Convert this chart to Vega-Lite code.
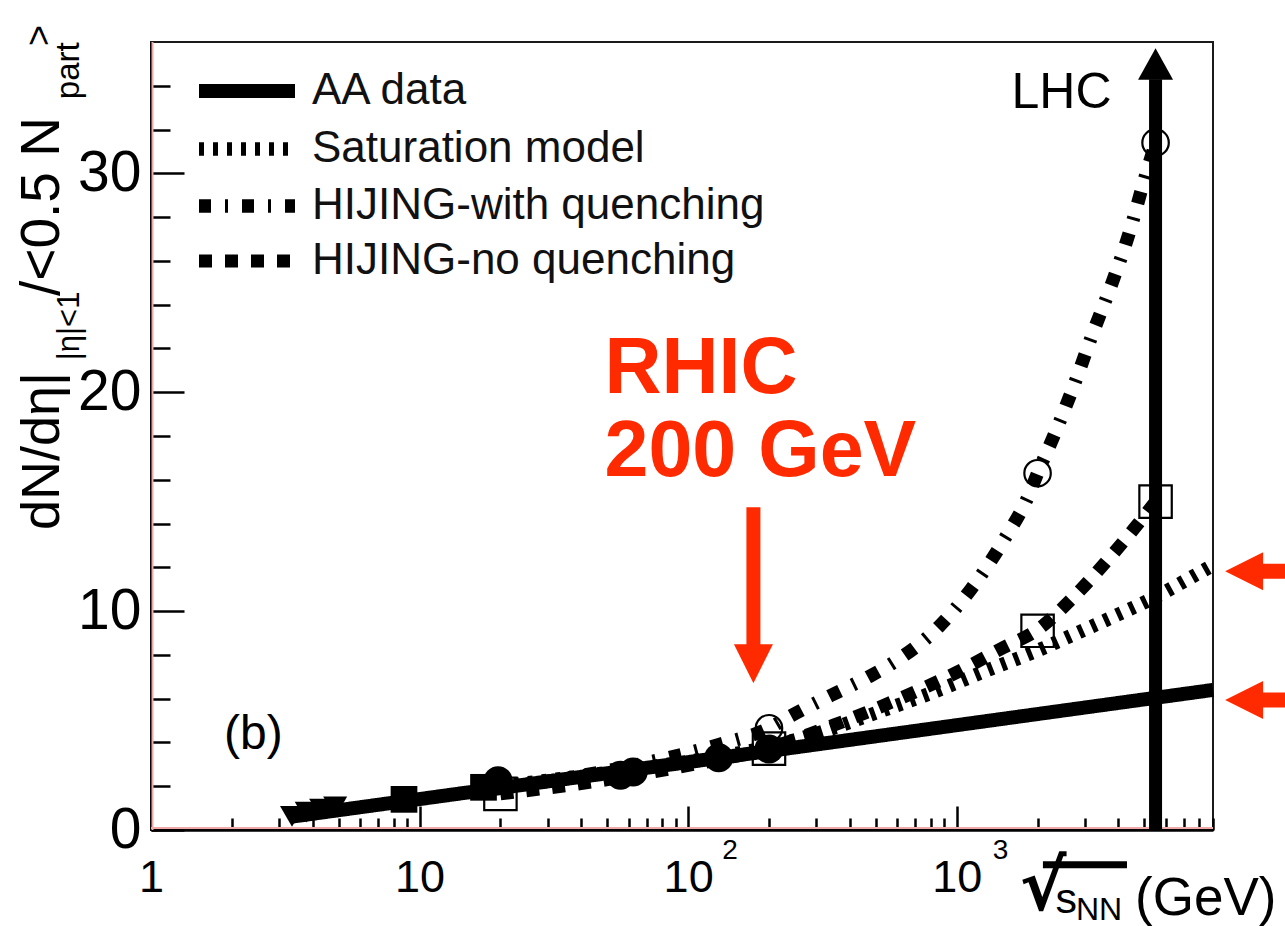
{
  "$schema": "https://vega.github.io/schema/vega-lite/v6.json",
  "width": 1062,
  "height": 788,
  "autosize": {"type": "none"},
  "padding": {"left": 151, "top": 42, "right": 72, "bottom": 96},
  "background": "white",
  "config": {
    "view": {"stroke": "#1a1a1a", "strokeWidth": 2},
    "font": "Liberation Sans",
    "text": {"font": "Liberation Sans", "color": "#000"},
    "axis": {
      "grid": false,
      "domainColor": "#000",
      "domainWidth": 2.5,
      "tickColor": "#000",
      "tickWidth": 2.5,
      "labelColor": "#000",
      "labelFont": "Liberation Sans",
      "title": null,
      "labelOverlap": false,
      "labelFlush": false
    }
  },
  "data": {"values": [{}]},
  "datasets": {
    "curves": [
      {"model": "AA data", "s": 3.3, "v": 0.6},
      {"model": "AA data", "s": 9000, "v": 6.4},
      {"model": "Saturation model", "s": 20, "v": 2.0},
      {"model": "Saturation model", "s": 60, "v": 2.75},
      {"model": "Saturation model", "s": 130, "v": 3.35},
      {"model": "Saturation model", "s": 200, "v": 3.8},
      {"model": "Saturation model", "s": 300, "v": 4.4},
      {"model": "Saturation model", "s": 500, "v": 5.35},
      {"model": "Saturation model", "s": 800, "v": 6.25},
      {"model": "Saturation model", "s": 1300, "v": 7.3},
      {"model": "Saturation model", "s": 2000, "v": 8.2},
      {"model": "Saturation model", "s": 2750, "v": 8.95},
      {"model": "Saturation model", "s": 4000, "v": 9.85},
      {"model": "Saturation model", "s": 5500, "v": 10.65},
      {"model": "Saturation model", "s": 7000, "v": 11.35},
      {"model": "Saturation model", "s": 9000, "v": 12.1},
      {"model": "HIJING-with quenching", "s": 20, "v": 1.9},
      {"model": "HIJING-with quenching", "s": 60, "v": 2.9},
      {"model": "HIJING-with quenching", "s": 130, "v": 3.9},
      {"model": "HIJING-with quenching", "s": 200, "v": 4.65},
      {"model": "HIJING-with quenching", "s": 240, "v": 5.2},
      {"model": "HIJING-with quenching", "s": 340, "v": 6.15},
      {"model": "HIJING-with quenching", "s": 470, "v": 7.0},
      {"model": "HIJING-with quenching", "s": 590, "v": 7.7},
      {"model": "HIJING-with quenching", "s": 860, "v": 9.3},
      {"model": "HIJING-with quenching", "s": 1130, "v": 11.0},
      {"model": "HIJING-with quenching", "s": 1490, "v": 13.2},
      {"model": "HIJING-with quenching", "s": 1870, "v": 15.4},
      {"model": "HIJING-with quenching", "s": 2000, "v": 16.3},
      {"model": "HIJING-with quenching", "s": 2280, "v": 17.9},
      {"model": "HIJING-with quenching", "s": 2710, "v": 20.2},
      {"model": "HIJING-with quenching", "s": 3190, "v": 22.6},
      {"model": "HIJING-with quenching", "s": 3790, "v": 25.0},
      {"model": "HIJING-with quenching", "s": 4420, "v": 27.4},
      {"model": "HIJING-with quenching", "s": 4940, "v": 29.5},
      {"model": "HIJING-with quenching", "s": 5500, "v": 31.4},
      {"model": "HIJING-no quenching", "s": 20, "v": 1.65},
      {"model": "HIJING-no quenching", "s": 50, "v": 2.3},
      {"model": "HIJING-no quenching", "s": 100, "v": 2.95},
      {"model": "HIJING-no quenching", "s": 200, "v": 3.75},
      {"model": "HIJING-no quenching", "s": 350, "v": 4.8},
      {"model": "HIJING-no quenching", "s": 600, "v": 5.95},
      {"model": "HIJING-no quenching", "s": 1000, "v": 7.2},
      {"model": "HIJING-no quenching", "s": 1500, "v": 8.35},
      {"model": "HIJING-no quenching", "s": 2000, "v": 9.15},
      {"model": "HIJING-no quenching", "s": 2750, "v": 10.7},
      {"model": "HIJING-no quenching", "s": 3900, "v": 12.75},
      {"model": "HIJING-no quenching", "s": 4600, "v": 13.8},
      {"model": "HIJING-no quenching", "s": 5500, "v": 15.0}
    ],
    "measured": [
      {"facility": "AGS", "s": 3.35, "v": 0.62},
      {"facility": "AGS", "s": 3.8, "v": 0.82},
      {"facility": "AGS", "s": 4.3, "v": 0.95},
      {"facility": "AGS", "s": 4.85, "v": 1.05},
      {"facility": "SPS", "s": 8.75, "v": 1.4},
      {"facility": "SPS", "s": 17.3, "v": 1.95},
      {"facility": "RHIC", "s": 19.6, "v": 2.25},
      {"facility": "RHIC", "s": 56, "v": 2.5},
      {"facility": "RHIC", "s": 62.4, "v": 2.65},
      {"facility": "RHIC", "s": 130, "v": 3.3},
      {"facility": "RHIC", "s": 200, "v": 3.7}
    ],
    "hijing": [
      {"model": "HIJING-with quenching", "s": 200, "v": 4.65},
      {"model": "HIJING-with quenching", "s": 2000, "v": 16.3},
      {"model": "HIJING-with quenching", "s": 5500, "v": 31.4},
      {"model": "HIJING-no quenching", "s": 20, "v": 1.65},
      {"model": "HIJING-no quenching", "s": 200, "v": 3.72},
      {"model": "HIJING-no quenching", "s": 2000, "v": 9.1},
      {"model": "HIJING-no quenching", "s": 5500, "v": 15.0}
    ]
  },
  "layer": [
    {
      "layer": [
        {
          "mark": {"type": "rule", "color": "#f0a8a8", "strokeWidth": 2},
          "encoding": {"x": {"datum": 1.013}, "y": {"datum": 0}, "y2": {"datum": 36}}
        },
        {
          "mark": {"type": "rule", "color": "#f0a8a8", "strokeWidth": 2},
          "encoding": {"x": {"datum": 1}, "x2": {"datum": 9000}, "y": {"datum": 0.09}}
        },
        {
          "data": {"name": "curves"},
          "mark": {"type": "line", "color": "#000", "interpolate": "monotone", "strokeCap": "butt"},
          "encoding": {
            "x": {
              "field": "s", "type": "quantitative",
              "scale": {"type": "log", "domain": [1, 9000], "nice": false},
              "axis": {"orient": "bottom", "values": [1, 10, 100, 1000], "tickSize": -24,
                       "labelExpr": "datum.value == 1 ? '1' : '10'", "labelFontSize": 45,
                       "labelBaseline": "alphabetic", "labelPadding": 85}
            },
            "y": {
              "field": "v", "type": "quantitative",
              "scale": {"domain": [0, 36], "nice": false, "zero": false},
              "axis": {"orient": "left", "values": [0, 10, 20, 30], "tickSize": -33,
                       "labelFontSize": 57, "labelPadding": 43}
            },
            "strokeDash": {
              "field": "model", "type": "nominal",
              "scale": {"domain": ["AA data", "Saturation model", "HIJING-with quenching", "HIJING-no quenching"],
                        "range": [[1, 0], [5, 9], [12, 14, 3, 14], [13, 13]]},
              "legend": {"orient": "none", "legendX": 74, "legendY": 27, "title": null,
                         "symbolType": "M-4,0L4,0", "symbolSize": 576, "symbolStrokeColor": "#000",
                         "labelFontSize": 44, "labelFont": "Liberation Sans", "labelColor": "#111",
                         "labelOffset": 43, "rowPadding": 2, "padding": 0, "labelLimit": 0}
            },
            "strokeWidth": {
              "field": "model", "type": "nominal",
              "scale": {"domain": ["AA data", "Saturation model", "HIJING-with quenching", "HIJING-no quenching"],
                        "range": [14, 13, 11, 12]},
              "legend": {"orient": "none", "legendX": 74, "legendY": 27, "title": null,
                         "symbolType": "M-4,0L4,0", "symbolSize": 576, "symbolStrokeColor": "#000",
                         "labelFontSize": 44, "labelFont": "Liberation Sans", "labelColor": "#111",
                         "labelOffset": 43, "rowPadding": 2, "padding": 0, "labelLimit": 0}
            }
          }
        },
        {
          "data": {"name": "measured"},
          "mark": {"type": "point", "filled": true, "color": "#000", "opacity": 1},
          "encoding": {
            "x": {"field": "s", "type": "quantitative"},
            "y": {"field": "v", "type": "quantitative"},
            "shape": {"field": "facility", "type": "nominal",
                      "scale": {"domain": ["AGS", "SPS", "RHIC"], "range": ["triangle-down", "square", "circle"]},
                      "legend": null},
            "size": {"field": "facility", "type": "nominal",
                     "scale": {"domain": ["AGS", "SPS", "RHIC"], "range": [576, 850, 560]},
                     "legend": null}
          }
        },
        {
          "data": {"name": "hijing"},
          "mark": {"type": "point", "filled": false, "color": "#000", "strokeWidth": 2.2, "opacity": 1},
          "encoding": {
            "x": {"field": "s", "type": "quantitative"},
            "y": {"field": "v", "type": "quantitative"},
            "shape": {"field": "model", "type": "nominal",
                      "scale": {"domain": ["HIJING-with quenching", "HIJING-no quenching"], "range": ["circle", "square"]},
                      "legend": null},
            "size": {"field": "model", "type": "nominal",
                     "scale": {"domain": ["HIJING-with quenching", "HIJING-no quenching"], "range": [700, 1050]},
                     "legend": null}
          }
        },
        {
          "mark": {"type": "rule", "color": "#000", "strokeWidth": 13},
          "encoding": {"x": {"datum": 5500}, "y": {"datum": 0}, "y2": {"datum": 34.3}}
        },
        {
          "mark": {"type": "point", "shape": "M-1,0.9L1,0.9L0,-0.9Z", "filled": true, "color": "#000", "opacity": 1, "size": 1225},
          "encoding": {"x": {"datum": 5500}, "y": {"datum": 35.0}}
        },
        {
          "mark": {"type": "text", "text": "LHC", "fontSize": 50, "align": "left", "baseline": "alphabetic"},
          "encoding": {"x": {"datum": 1600}, "y": {"datum": 33.0}}
        },
        {
          "mark": {"type": "rule", "color": "#ff2a00", "strokeWidth": 14},
          "encoding": {"x": {"datum": 175}, "y": {"datum": 14.74}, "y2": {"datum": 8.3}}
        },
        {
          "mark": {"type": "point", "shape": "M-1,-1L1,-1L0,1Z", "filled": true, "color": "#ff2a00", "opacity": 1, "size": 1521},
          "encoding": {"x": {"datum": 175}, "y": {"datum": 7.6}}
        },
        {
          "mark": {"type": "text", "text": ["RHIC", "200 GeV"], "fontSize": 79, "fontWeight": "bold",
                   "color": "#ff2a00", "align": "left", "baseline": "alphabetic", "lineHeight": 83},
          "encoding": {"x": {"datum": 48.8}, "y": {"datum": 19.95}}
        },
        {
          "mark": {"type": "rule", "color": "#ff2a00", "strokeWidth": 15},
          "encoding": {"x": {"datum": 13500}, "x2": {"datum": 20000}, "y": {"datum": 11.82}}
        },
        {
          "mark": {"type": "point", "shape": "M1,-1L1,1L-1,0Z", "filled": true, "color": "#ff2a00", "opacity": 1, "size": 1444},
          "encoding": {"x": {"datum": 11750}, "y": {"datum": 11.82}}
        },
        {
          "mark": {"type": "rule", "color": "#ff2a00", "strokeWidth": 15},
          "encoding": {"x": {"datum": 13500}, "x2": {"datum": 20000}, "y": {"datum": 5.94}}
        },
        {
          "mark": {"type": "point", "shape": "M1,-1L1,1L-1,0Z", "filled": true, "color": "#ff2a00", "opacity": 1, "size": 1444},
          "encoding": {"x": {"datum": 11750}, "y": {"datum": 5.94}}
        },
        {
          "mark": {"type": "text", "text": "(b)", "fontSize": 48, "align": "left", "baseline": "alphabetic"},
          "encoding": {"x": {"datum": 1.87}, "y": {"datum": 3.72}}
        },
        {
          "mark": {"type": "text", "text": "2", "fontSize": 28, "align": "left", "baseline": "alphabetic", "dx": 34, "dy": 29},
          "encoding": {"x": {"datum": 100}, "y": {"datum": 0}}
        },
        {
          "mark": {"type": "text", "text": "3", "fontSize": 28, "align": "left", "baseline": "alphabetic", "dx": 36, "dy": 29},
          "encoding": {"x": {"datum": 1000}, "y": {"datum": 0}}
        },
        {
          "mark": {"type": "text", "text": "√", "font": "DejaVu Sans", "fontWeight": "bold", "fontSize": 70, "align": "left", "baseline": "alphabetic"},
          "encoding": {"x": {"datum": 1718}, "y": {"datum": -3.64}}
        },
        {
          "mark": {"type": "rule", "color": "#000", "strokeWidth": 7},
          "encoding": {"x": {"datum": 2094}, "x2": {"datum": 4305}, "y": {"datum": -1.59}}
        },
        {
          "mark": {"type": "text", "text": "s", "fontSize": 43, "align": "left", "baseline": "alphabetic"},
          "encoding": {"x": {"datum": 2330}, "y": {"datum": -3.78}}
        },
        {
          "mark": {"type": "text", "text": "NN", "fontSize": 32, "align": "left", "baseline": "alphabetic"},
          "encoding": {"x": {"datum": 2780}, "y": {"datum": -4.1}}
        },
        {
          "mark": {"type": "text", "text": "(GeV)", "fontSize": 53, "align": "left", "baseline": "alphabetic"},
          "encoding": {"x": {"datum": 4613}, "y": {"datum": -3.9}}
        },
        {
          "mark": {"type": "text", "text": "dN/dη|", "fontSize": 54, "angle": 270, "align": "left", "baseline": "alphabetic"},
          "encoding": {"x": {"datum": 0.4542}, "y": {"datum": 13.7}}
        },
        {
          "mark": {"type": "text", "text": "|η|<1", "fontSize": 31, "angle": 270, "align": "left", "baseline": "alphabetic"},
          "encoding": {"x": {"datum": 0.539}, "y": {"datum": 21.46}}
        },
        {
          "mark": {"type": "text", "text": "/<0.5 N", "fontSize": 55, "angle": 270, "align": "left", "baseline": "alphabetic"},
          "encoding": {"x": {"datum": 0.4542}, "y": {"datum": 24.4}}
        },
        {
          "mark": {"type": "text", "text": "part", "fontSize": 33, "angle": 270, "align": "left", "baseline": "alphabetic"},
          "encoding": {"x": {"datum": 0.539}, "y": {"datum": 33.39}}
        },
        {
          "mark": {"type": "text", "text": ">", "fontSize": 36, "angle": 270, "align": "left", "baseline": "alphabetic"},
          "encoding": {"x": {"datum": 0.4239}, "y": {"datum": 35.82}}
        }
      ],
      "resolve": {"scale": {"shape": "independent", "size": "independent"}}
    },
    {
      "data": {"name": "curves"},
      "mark": {"type": "point", "opacity": 0},
      "encoding": {
        "x": {
          "field": "s", "type": "quantitative",
          "axis": {"orient": "bottom", "values": [2, 3, 4, 5, 6, 7, 8, 9, 20, 30, 40, 50, 60, 70, 80, 90, 200, 300, 400, 500, 600, 700, 800, 900, 2000, 3000, 4000, 5000, 6000, 7000, 8000, 9000],
                   "tickSize": -12, "labels": false, "domain": false}
        },
        "y": {
          "field": "v", "type": "quantitative",
          "axis": {"orient": "left", "values": [2, 4, 6, 8, 12, 14, 16, 18, 22, 24, 26, 28, 32, 34],
                   "tickSize": -19, "labels": false, "domain": false}
        }
      }
    }
  ],
  "resolve": {"axis": {"x": "independent", "y": "independent"}}
}
